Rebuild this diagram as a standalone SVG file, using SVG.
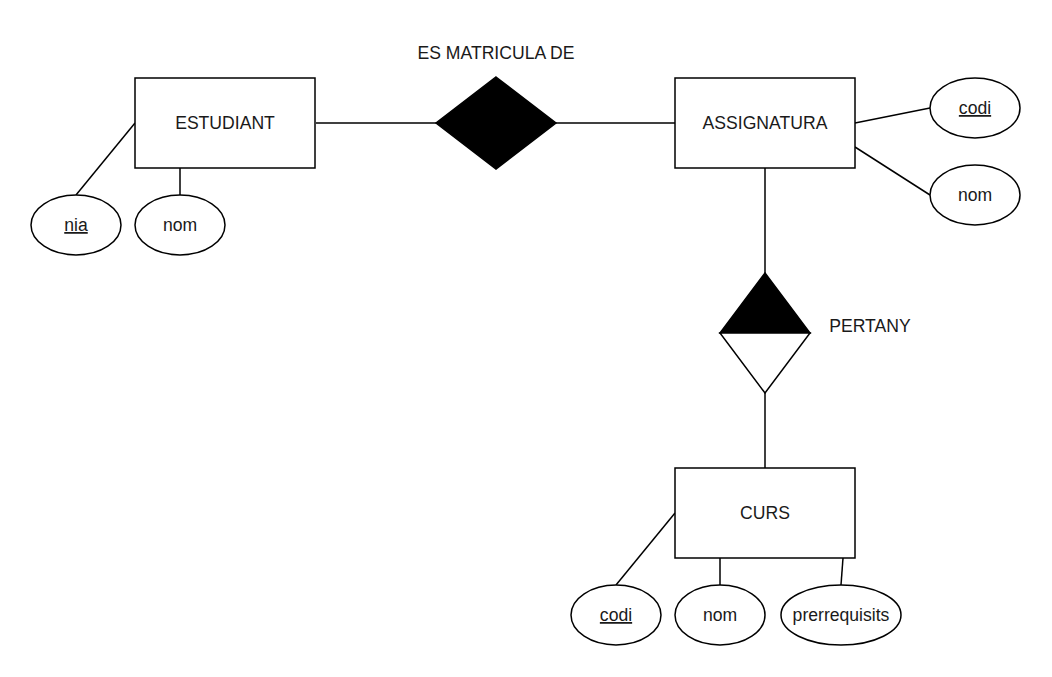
<svg xmlns="http://www.w3.org/2000/svg" width="1052" height="677" viewBox="0 0 1052 677">
<style>
.box{fill:#fff;stroke:#000;stroke-width:1.5}
.attr{fill:#fff;stroke:#000;stroke-width:1.5}
.ln{stroke:#000;stroke-width:1.5;fill:none}
text{font-family:"Liberation Sans",Arial,sans-serif;font-size:17.6px;fill:#1a1a1a;text-anchor:middle}
.u{text-decoration:underline}
</style>
<rect width="1052" height="677" fill="#fff"/>
<g id="connectors">
<line class="ln" x1="316" y1="123" x2="436" y2="123"/>
<line class="ln" x1="556" y1="123" x2="675" y2="123"/>
<line class="ln" x1="135" y1="123" x2="76" y2="195"/>
<line class="ln" x1="180" y1="168" x2="180" y2="195"/>
<line class="ln" x1="855" y1="123" x2="930" y2="108"/>
<line class="ln" x1="855" y1="147" x2="930" y2="195"/>
<line class="ln" x1="765" y1="168" x2="765" y2="273"/>
<line class="ln" x1="765" y1="393" x2="765" y2="468"/>
<line class="ln" x1="675" y1="513" x2="616" y2="585"/>
<line class="ln" x1="720" y1="558" x2="720" y2="585"/>
<line class="ln" x1="843" y1="558" x2="841" y2="585"/>
</g>
<g id="estudiant">
<rect class="box" x="135" y="78" width="180" height="90"/>
<text x="225" y="129">ESTUDIANT</text>
</g>
<g id="estudiant-nia">
<ellipse class="attr" cx="76" cy="225" rx="45" ry="30"/>
<text class="u" x="76" y="231">nia</text>
</g>
<g id="estudiant-nom">
<ellipse class="attr" cx="180" cy="225" rx="45" ry="30"/>
<text x="180" y="231">nom</text>
</g>
<g id="es-matricula-de">
<polygon points="496,77 556,123 496,169 436,123" fill="#000" stroke="#000" stroke-width="1.5"/>
<text x="496" y="59">ES MATRICULA DE</text>
</g>
<g id="assignatura">
<rect class="box" x="675" y="78" width="180" height="90"/>
<text x="765" y="129">ASSIGNATURA</text>
</g>
<g id="assignatura-codi">
<ellipse class="attr" cx="975" cy="108" rx="45" ry="30"/>
<text class="u" x="975" y="114">codi</text>
</g>
<g id="assignatura-nom">
<ellipse class="attr" cx="975" cy="195" rx="45" ry="30"/>
<text x="975" y="201">nom</text>
</g>
<g id="pertany">
<polygon points="765,273 810,333 720,333" fill="#000" stroke="#000" stroke-width="1.5"/>
<polygon points="720,333 810,333 765,393" fill="#fff" stroke="#000" stroke-width="1.5"/>
<text x="870" y="332">PERTANY</text>
</g>
<g id="curs">
<rect class="box" x="675" y="468" width="180" height="90"/>
<text x="765" y="519">CURS</text>
</g>
<g id="curs-codi">
<ellipse class="attr" cx="616" cy="615" rx="45" ry="30"/>
<text class="u" x="616" y="621">codi</text>
</g>
<g id="curs-nom">
<ellipse class="attr" cx="720" cy="615" rx="45" ry="30"/>
<text x="720" y="621">nom</text>
</g>
<g id="curs-prerrequisits">
<ellipse class="attr" cx="841" cy="615" rx="60" ry="30"/>
<text x="841" y="621">prerrequisits</text>
</g>
</svg>
